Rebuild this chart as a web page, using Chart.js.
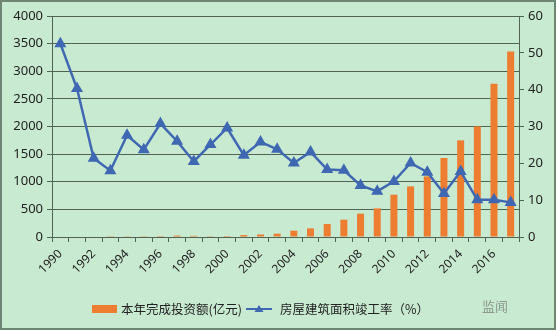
<!DOCTYPE html>
<html>
<head>
<meta charset="utf-8">
<script src="https://cdn.jsdelivr.net/npm/chart.js@4"></script>
<style>
  body { margin: 0; background: #c8ead0; }
  #wrap { width: 556px; height: 330px; position: relative; }
</style>
</head>
<body>
<div id="wrap"><canvas id="chart" width="556" height="330"></canvas></div>
<script>
var years = ['1990','1991','1992','1993','1994','1995','1996','1997','1998','1999',
  '2000','2001','2002','2003','2004','2005','2006','2007','2008','2009',
  '2010','2011','2012','2013','2014','2015','2016','2017'];
// 本年完成投资额(亿元)
var investment = [0, 0, 0, 15, 5, 15, 18, 25, 22, 15,
  18, 35, 45, 60, 114, 156, 235, 313, 422, 518,
  766, 916, 1097, 1430, 1749, 2002, 2774, 3359];
// 房屋建筑面积竣工率（%）
var completion = [52.5, 40.3, 21.4, 18.0, 27.6, 23.7, 30.8, 26.0, 20.5, 25.1,
  29.6, 22.2, 25.8, 23.8, 20.1, 23.1, 18.3, 18.1, 14.0, 12.4,
  15.1, 20.1, 17.6, 11.8, 17.8, 10.1, 10.1, 9.4];
var leftTicks = [0, 500, 1000, 1500, 2000, 2500, 3000, 3500, 4000];
var rightTicks = [0, 10, 20, 30, 40, 50, 60];

var barName = '本年完成投资额(亿元)';
var lineName = '房屋建筑面积竣工率（%）';
var orange = '#ed7d31';
var blue = '#4068b2';
var gridColor = '#4f6454';
var numFont = { family: 'Noto Sans', size: 13 };

var frame = {
  id: 'frame',
  beforeDraw: function (chart) {
    var c = chart.ctx;
    c.save();
    c.fillStyle = '#c8ead0';
    c.fillRect(0, 0, chart.width, chart.height);
    c.restore();
  },
  afterDraw: function (chart) {
    var c = chart.ctx;
    c.save();
    c.strokeStyle = '#6d8673';
    c.lineWidth = 2;
    c.strokeRect(1, 1, chart.width - 2, chart.height - 2);
    // legend
    var y = 309;
    c.fillStyle = orange;
    c.fillRect(92, y - 4, 25, 8);
    c.font = '12.5px "Noto Sans CJK SC"';
    c.fillStyle = '#222';
    c.textBaseline = 'middle';
    c.fillText(barName, 121, y);
    c.strokeStyle = blue;
    c.lineWidth = 2;
    c.beginPath();
    c.moveTo(246, y); c.lineTo(272, y);
    c.stroke();
    c.fillStyle = blue;
    c.beginPath();
    c.moveTo(259, y - 4); c.lineTo(263.5, y + 3); c.lineTo(254.5, y + 3);
    c.closePath(); c.fill();
    c.fillStyle = '#222';
    c.fillText(lineName, 280, y);
    // watermark label
    c.fillStyle = '#8a9a8e';
    c.font = '13px "Noto Sans CJK SC"';
    c.fillText('监闻', 482, y - 3);
    c.restore();
  }
};

var plain = function (v) { return String(v); };

var ctx = document.getElementById('chart').getContext('2d');
var myChart = new Chart(ctx, {
  type: 'bar',
  data: {
    labels: years,
    datasets: [{
      type: 'line',
      label: lineName,
      data: completion,
      yAxisID: 'y1',
      borderColor: blue,
      backgroundColor: blue,
      borderWidth: 2.5,
      pointStyle: 'triangle',
      pointRadius: 4.5,
      pointBackgroundColor: blue,
      pointBorderColor: blue,
      tension: 0,
      order: 0
    }, {
      type: 'bar',
      label: barName,
      data: investment,
      yAxisID: 'y',
      backgroundColor: orange,
      categoryPercentage: 1,
      barPercentage: 0.42,
      order: 1
    }]
  },
  options: {
    responsive: false,
    animation: false,
    layout: { padding: { top: 16, left: 0, right: 0, bottom: 0 } },
    plugins: { legend: { display: false }, tooltip: { enabled: false } },
    scales: {
      x: {
        offset: true,
        grid: { drawOnChartArea: false, drawTicks: true, tickLength: 5, color: gridColor, offset: true },
        border: { color: gridColor, width: 1 },
        ticks: {
          autoSkip: false,
          maxRotation: 45, minRotation: 45,
          color: '#222',
          font: { family: 'Noto Sans', size: 12 },
          padding: 5,
          callback: function (v, i) { return i % 2 === 0 ? years[i] : ''; }
        },
        afterFit: function (s) { s.height = 93; }
      },
      y: {
        position: 'left',
        min: 0, max: 4000,
        afterBuildTicks: function (s) { s.ticks = leftTicks.map(function (v) { return { value: v }; }); },
        grid: { color: gridColor, tickLength: 5 },
        border: { color: gridColor },
        ticks: { color: '#222', font: numFont, padding: 4, callback: plain },
        afterFit: function (s) { s.width = 52; }
      },
      y1: {
        position: 'right',
        min: 0, max: 60,
        afterBuildTicks: function (s) { s.ticks = rightTicks.map(function (v) { return { value: v }; }); },
        grid: { drawOnChartArea: false, color: gridColor, tickLength: 5 },
        border: { color: gridColor },
        ticks: { color: '#222', font: numFont, padding: 4, callback: plain },
        afterFit: function (s) { s.width = 37; }
      }
    }
  },
  plugins: [frame]
});
</script>
</body>
</html>
